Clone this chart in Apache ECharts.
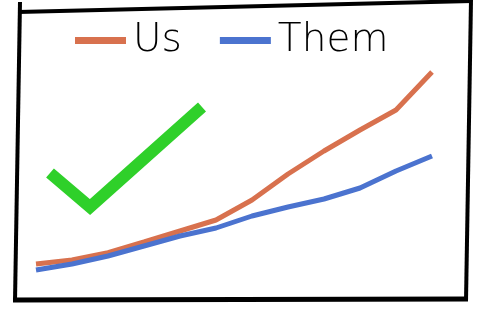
<!DOCTYPE html>
<html><head><meta charset="utf-8">
<script src="https://cdn.jsdelivr.net/npm/echarts@6/dist/echarts.min.js"></script>
<style>html,body{margin:0;padding:0;background:#fff}#c{width:478px;height:317px}</style>
</head><body><div id="c"></div>
<script>
var categories = ['1','2','3','4','5','6','7','8','9','10','11','12'];
var usValues   = [13, 15, 18.7, 24, 29.5, 35, 45, 58, 69.5, 80, 90, 109];
var themValues = [10, 13, 17, 22, 27, 31, 37, 41.5, 45.5, 51, 59.5, 67];
var seriesNames = ['Us', 'Them'];

var chart = echarts.init(document.getElementById('c'));
var font = "'DejaVu Sans', sans-serif";
chart.setOption({
  animation: false,
  backgroundColor: '#fff',
  grid: { left: 36, right: 46, top: 50, bottom: 27 },
  legend: {
    data: seriesNames,
    left: 70, top: 16,
    icon: 'rect', itemWidth: 51, itemHeight: 7, itemGap: 38,
    textStyle: { fontFamily: font, fontSize: 39, fontWeight: 200, color: '#000', padding: [0,0,0,2] }
  },
  xAxis: { type: 'category', data: categories, boundaryGap: false, show: false },
  yAxis: { type: 'value', min: 0, max: 120, show: false },
  series: [
    { name: seriesNames[0], type: 'line', data: usValues, symbol: 'none',
      lineStyle: { color: '#D8714E', width: 5 }, itemStyle: { color: '#D8714E' } },
    { name: seriesNames[1], type: 'line', data: themValues, symbol: 'none',
      lineStyle: { color: '#4B73CF', width: 5 }, itemStyle: { color: '#4B73CF' } }
  ],
  graphic: [
    { type: 'line', shape: { x1: 18, y1: 12, x2: 472, y2: 1 }, style: { stroke: '#000', lineWidth: 4 } },
    { type: 'line', shape: { x1: 20, y1: 2, x2: 15, y2: 301 }, style: { stroke: '#000', lineWidth: 4 } },
    { type: 'line', shape: { x1: 13, y1: 300, x2: 468, y2: 299 }, style: { stroke: '#000', lineWidth: 5 } },
    { type: 'line', shape: { x1: 471, y1: 0, x2: 466, y2: 301 }, style: { stroke: '#000', lineWidth: 4 } },
    { type: 'polyline', shape: { points: [[50,173],[90,207],[202,107]] },
      style: { stroke: '#2FD02A', lineWidth: 12, fill: null, lineJoin: 'miter' } }
  ]
});
</script></body></html>
